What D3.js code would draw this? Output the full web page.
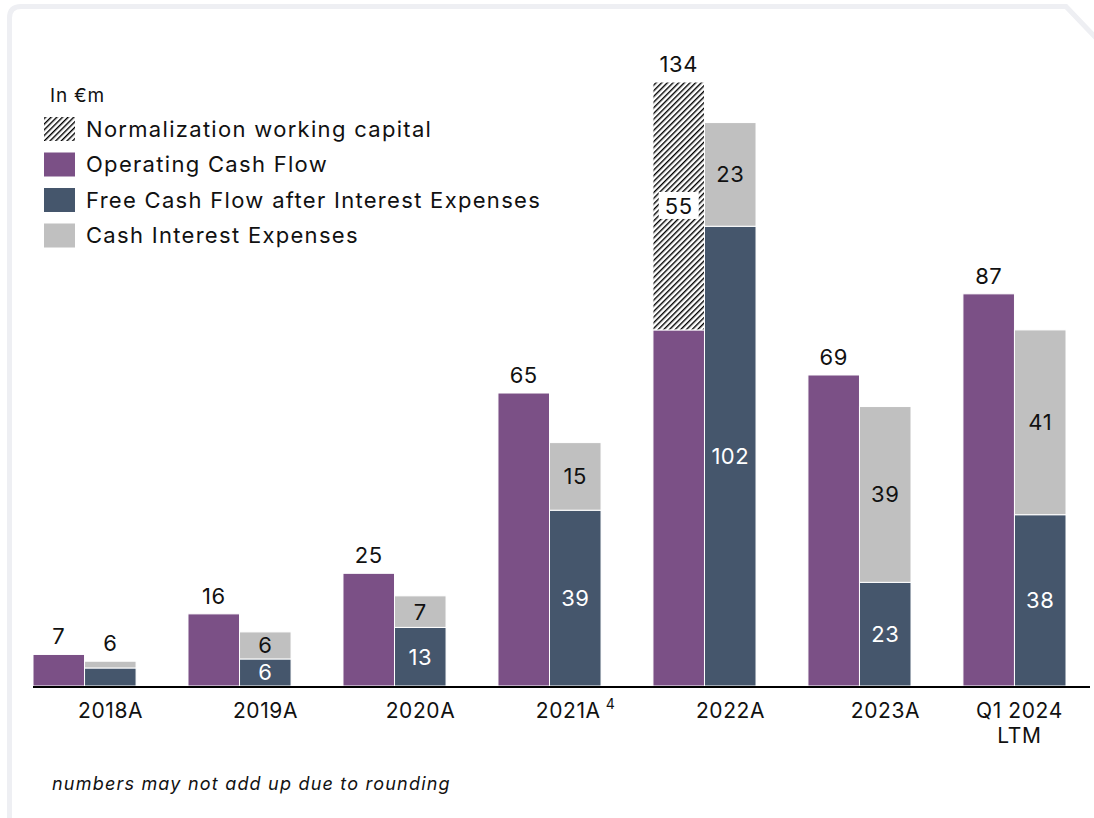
<!DOCTYPE html>
<html>
<head>
<meta charset="utf-8">
<script src="https://cdn.jsdelivr.net/npm/d3@7"></script>
<style>
  body { margin: 0; background: #fff; }
  svg { display: block; font-family: "Inter", "Open Sans", sans-serif; }
</style>
</head>
<body>
<div class="chart"></div>
<script>
// data (in €m)
const categories = ["2018A", "2019A", "2020A", "2021A", "2022A", "2023A", "Q1 2024 LTM"];
const operatingCF = [7, 16, 25, 65, 79, 69, 87];
const normalization = [0, 0, 0, 0, 55, 0, 0];
const freeCF = [4, 6, 13, 39, 102, 23, 38];
const interest = [1.5, 6, 7, 15, 23, 39, 41];
// printed labels
const ocfLabels = ["7", "16", "25", "65", "134", "69", "87"];
const fcfLabels = ["", "6", "13", "39", "102", "23", "38"];
const interestLabels = ["", "6", "7", "15", "23", "39", "41"];
const stackTopLabels = ["6", "", "", "", "", "", ""];
const normLabels = ["", "", "", "", "55", "", ""];
const superscripts = ["", "", "", "4", "", "", ""];

const colors = {
  ocf: "#7b5086",
  fcf: "#45566c",
  interest: "#c0c0c0"
};

const svgWidth = 1094;
const svgHeight = 818;

const svg = d3.select(".chart")
  .append("svg")
  .attr("width", svgWidth)
  .attr("height", svgHeight);

// card border with chamfered top-right corner
svg.append("path")
  .attr("d", "M9.5,818 L9.5,18 Q9.5,6.5 21,6.5 L1066,6.5 L1096,38")
  .attr("fill", "none")
  .attr("stroke", "#eeeff3")
  .attr("stroke-width", 5);

// hatch pattern
const defs = svg.append("defs");
const pattern = defs.append("pattern")
  .attr("id", "hatch")
  .attr("patternUnits", "userSpaceOnUse")
  .attr("width", 4)
  .attr("height", 4)
  .attr("patternTransform", "rotate(45)");
pattern.append("rect").attr("width", 4).attr("height", 4).attr("fill", "#fff");
pattern.append("line")
  .attr("x1", 0).attr("y1", 0).attr("x2", 0).attr("y2", 4)
  .attr("stroke", "#000").attr("stroke-width", 2.8);

// scales
const baseline = 686;
const xScale = d3.scaleBand()
  .domain(categories)
  .range([33, 1066])
  .paddingInner(0.335)
  .paddingOuter(0);

const subScale = d3.scaleBand()
  .domain(["ocf", "fcf"])
  .range([0, xScale.bandwidth()]);

const yScale = d3.scaleLinear()
  .domain([0, 134])
  .range([baseline, 82]);

const rows = categories.map((c, i) => ({
  cat: c, i,
  ocf: operatingCF[i], norm: normalization[i], fcf: freeCF[i], int: interest[i]
}));

const groups = svg.selectAll(".group")
  .data(rows)
  .enter()
  .append("g")
  .attr("class", "group")
  .attr("transform", d => `translate(${xScale(d.cat)},0)`);

function seg(g, key, y0, y1, fill) {
  g.append("rect")
    .attr("x", subScale(key))
    .attr("width", subScale.bandwidth())
    .attr("y", yScale(y1))
    .attr("height", yScale(y0) - yScale(y1))
    .attr("fill", fill)
    .attr("stroke", "#fff")
    .attr("stroke-width", 1);
}

function label(g, x, y, txt, fill, mid) {
  g.append("text")
    .attr("x", x).attr("y", y)
    .attr("dy", mid ? "0.36em" : null)
    .attr("text-anchor", "middle")
    .attr("font-size", 22)
    .attr("letter-spacing", "0.5px")
    .attr("fill", fill)
    .text(txt);
}

groups.each(function(d) {
  const g = d3.select(this);
  const cx1 = subScale("ocf") + subScale.bandwidth() / 2;
  const cx2 = subScale("fcf") + subScale.bandwidth() / 2;

  // operating cash flow (+ normalization)
  seg(g, "ocf", 0, d.ocf, colors.ocf);
  if (d.norm > 0) seg(g, "ocf", d.ocf, d.ocf + d.norm, "url(#hatch)");

  // free cash flow + interest
  seg(g, "fcf", 0, d.fcf, colors.fcf);
  seg(g, "fcf", d.fcf, d.fcf + d.int, colors.interest);

  label(g, cx1, yScale(d.ocf + d.norm) - 10, ocfLabels[d.i], "#111", false);

  if (normLabels[d.i]) {
    const yc = yScale(d.ocf + d.norm / 2);
    g.append("rect")
      .attr("x", cx1 - 20).attr("y", yc - 14)
      .attr("width", 40).attr("height", 27)
      .attr("fill", "#fff");
    label(g, cx1, yc, normLabels[d.i], "#111", true);
  }
  if (fcfLabels[d.i]) label(g, cx2, yScale(d.fcf / 2), fcfLabels[d.i], "#fff", true);
  if (interestLabels[d.i]) label(g, cx2, yScale(d.fcf + d.int / 2), interestLabels[d.i], "#111", true);
  if (stackTopLabels[d.i]) label(g, cx2, yScale(d.fcf + d.int) - 10, stackTopLabels[d.i], "#111", false);
});

// x axis line
svg.append("line")
  .attr("x1", 33).attr("x2", 1090)
  .attr("y1", baseline + 1).attr("y2", baseline + 1)
  .attr("stroke", "#000")
  .attr("stroke-width", 2.2);

// category labels (sit slightly right of the group centre)
categories.forEach((c, i) => {
  const multi = c === "Q1 2024 LTM";
  const cx = xScale(c) + xScale.bandwidth() / 2 + (multi ? 5 : 26);
  const parts = multi ? ["Q1 2024", "LTM"] : [c];
  const t = svg.append("text")
    .attr("text-anchor", "middle")
    .attr("font-size", 21)
    .attr("letter-spacing", "0.6px")
    .attr("fill", "#111");
  parts.forEach((p, k) => {
    t.append("tspan").attr("x", cx).attr("y", 718 + k * 25).text(p);
  });
  if (superscripts[i]) {
    t.append("tspan")
      .attr("font-size", 14)
      .attr("dx", 5)
      .attr("dy", -9)
      .text(superscripts[i]);
  }
});

// legend
svg.append("text")
  .attr("x", 50).attr("y", 102)
  .attr("font-size", 19)
  .attr("letter-spacing", "0.8px")
  .attr("fill", "#111")
  .text("In €m");

const legendItems = [
  { label: "Normalization working capital", fill: "url(#hatch)" },
  { label: "Operating Cash Flow", fill: colors.ocf },
  { label: "Free Cash Flow after Interest Expenses", fill: colors.fcf },
  { label: "Cash Interest Expenses", fill: colors.interest }
];

const legend = svg.selectAll(".legend")
  .data(legendItems)
  .enter()
  .append("g")
  .attr("class", "legend")
  .attr("transform", (d, i) => `translate(44, ${129 + i * 35.5})`);

legend.append("rect")
  .attr("x", 0).attr("y", -12)
  .attr("width", 31).attr("height", 24)
  .attr("fill", d => d.fill);

legend.append("text")
  .attr("x", 42).attr("y", 0)
  .attr("dy", "0.36em")
  .attr("font-size", 22)
  .attr("letter-spacing", "1.3px")
  .attr("fill", "#111")
  .text(d => d.label);

// footnote
svg.append("text")
  .attr("x", 52).attr("y", 790)
  .attr("font-size", 18)
  .attr("font-style", "italic")
  .attr("letter-spacing", "1.2px")
  .attr("fill", "#111")
  .text("numbers may not add up due to rounding");
</script>
</body>
</html>
